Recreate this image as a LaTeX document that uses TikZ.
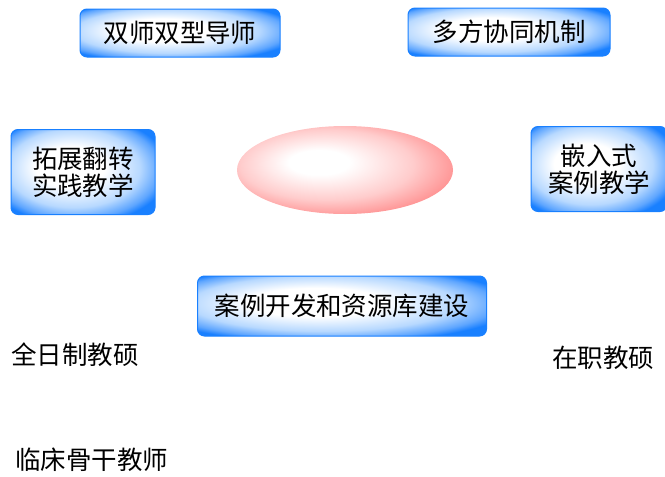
\documentclass[tikz,border=0pt]{standalone}
\usepackage{fontspec}
\usepackage{tikz}
\usetikzlibrary{shapes.geometric}
\setmainfont{Noto Sans CJK SC}
\definecolor{boxblue}{rgb}{0.1,0.5,1.0}
\definecolor{boxpale}{rgb}{0.72,0.85,1.0}
\definecolor{ovalred}{rgb}{1.0,0.55,0.55}
\definecolor{ovalpale}{rgb}{1.0,0.8,0.8}
\pgfdeclareradialshading{boxshade}{\pgfpoint{-6bp}{4bp}}{color(0bp)=(white); color(12bp)=(white); color(23bp)=(boxpale); color(29bp)=(boxblue!70); color(32bp)=(boxblue); color(50bp)=(boxblue)}
\pgfdeclareradialshading{ovalshade}{\pgfpoint{-7bp}{5bp}}{color(0bp)=(white); color(7bp)=(white); color(20bp)=(ovalpale); color(30bp)=(ovalred); color(50bp)=(ovalred)}
\tikzset{
  bluebox/.style={rectangle,rounded corners=7pt,shading=boxshade,draw=boxblue,line width=1pt,
    align=center,inner sep=0pt,font=\fontsize{25.5}{27}\selectfont},
  plain/.style={font=\fontsize{25.5}{27}\selectfont,inner sep=0pt}
}
\begin{document}
\begin{tikzpicture}[x=1pt,y=1pt]
\useasboundingbox (0,0) rectangle (665,-477);

% top row
\node[bluebox,minimum width=200pt,minimum height=48pt] (tutor) at (180,-33) {双师双型导师};
\node[bluebox,minimum width=202pt,minimum height=48pt] (coop) at (509,-32) {多方协同机制};

% middle row
\node[bluebox,minimum width=144pt,minimum height=85pt] (flip) at (83,-172) {拓展翻转\\实践教学};
\node[ellipse,shading=ovalshade,minimum width=216pt,minimum height=88pt,inner sep=0pt] (core) at (345,-170) {};
\node[bluebox,minimum width=136pt,minimum height=85pt] (embed) at (599,-169) {嵌入式\\案例教学};

% bottom box
\node[bluebox,minimum width=289pt,minimum height=60pt] (case) at (342,-306) {案例开发和资源库建设};

% labels
\node[plain] (fulltime) at (75,-355) {全日制教硕};
\node[plain] (parttime) at (603,-358) {在职教硕};
\node[plain] (clinic) at (92,-460) {临床骨干教师};
\end{tikzpicture}
\end{document}
